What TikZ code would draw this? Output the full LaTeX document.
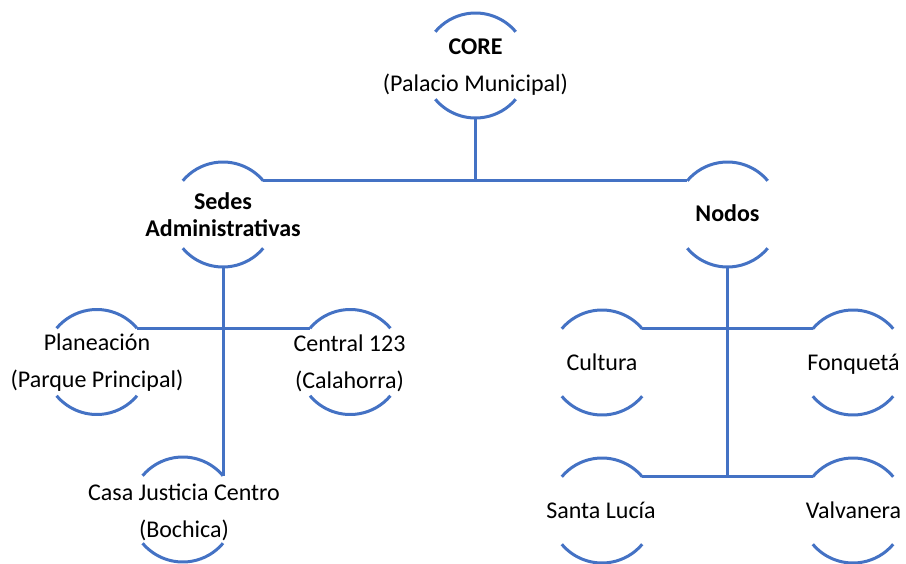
\documentclass[tikz,border=0pt]{standalone}
\usepackage{fontspec}
\setmainfont{Carlito}
\definecolor{lineblue}{HTML}{4472C4}
\begin{document}
\begin{tikzpicture}[x=1pt,y=-1pt,
  ring/.style={circle, minimum size=105pt, inner sep=0pt, outer sep=0pt},
  lbl/.style={align=center, inner sep=0pt, font=\fontsize{24}{27}\selectfont},
  oneline/.style={lbl, text height=13pt, text depth=4pt},
  ln/.style={draw=lineblue, line width=3pt},
  conn/.style={draw=lineblue, line width=3pt}]
\useasboundingbox (0,0) rectangle (906,563);
% circles (only arcs drawn)
\node[ring] (core) at (475.5,65.5) {};
\node[ring] (sedes) at (223,214.5) {};
\node[ring] (nodos) at (727.5,214.5) {};
\node[ring] (plan) at (96.8,362) {};
\node[ring] (central) at (350.2,362) {};
\node[ring] (casa) at (182.8,509.5) {};
\node[ring] (cult) at (602,362.5) {};
\node[ring] (fonq) at (853,362.5) {};
\node[ring] (santa) at (602,510.5) {};
\node[ring] (valv) at (853,510.5) {};
\foreach \n in {core,sedes,nodos,plan,central,casa,cult,fonq,santa,valv}{
  \draw[ln] (\n.40) arc[start angle=40,end angle=140,radius=52.5pt];
  \draw[ln] (\n.220) arc[start angle=220,end angle=320,radius=52.5pt];
}
% labels
\node[lbl] (coreL) at (475.5,67) {\textbf{CORE}\\[10pt](Palacio Municipal)};
\node[lbl] (sedesL) at (223,215) {\textbf{Sedes}\\\textbf{Administrativas}};
\node[oneline] (nodosL) at (727.5,217) {\textbf{Nodos}};
\node[lbl] (planL) at (97,363) {Planeación\\[10pt](Parque Principal)};
\node[lbl] (centralL) at (349.5,363) {Central 123\\[10pt](Calahorra)};
\node[lbl] (casaL) at (184,512) {Casa Justicia Centro\\[10pt](Bochica)};
\node[oneline] (cultL) at (602,365.5) {Cultura};
\node[oneline] (fonqL) at (853.5,365.5) {Fonquetá};
\node[oneline] (santaL) at (601,513.5) {Santa Lucía};
\node[oneline] (valvL) at (853.5,513.5) {Valvanera};
% connectors
\draw[conn] (core.south) -- (core.south |- sedes.40);
\draw[conn] (sedes.40) -- (nodos.140);
\draw[conn] (sedes.south) -- (sedes.south |- casa.40);
\draw[conn] (plan.40) -- (central.140);
\draw[conn] (nodos.south) -- (nodos.south |- santa.40);
\draw[conn] (cult.40) -- (fonq.140);
\draw[conn] (santa.40) -- (valv.140);
\end{tikzpicture}
\end{document}
